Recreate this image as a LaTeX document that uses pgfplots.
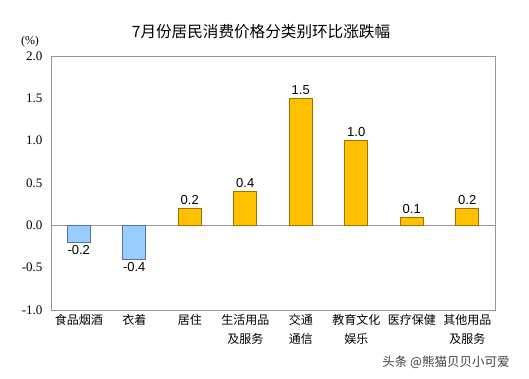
\documentclass[border=0pt]{standalone}
\usepackage{fontspec}
\setmainfont{Liberation Serif}
\newfontfamily\cjk{Noto Sans CJK SC}
\newfontfamily\arial{Liberation Sans}
\usepackage{pgfplots}
\pgfplotsset{compat=1.18}
\definecolor{barblue}{RGB}{153,204,255}
\definecolor{bluedge}{RGB}{85,115,155}
\definecolor{baryel}{RGB}{255,192,0}
\definecolor{yeledge}{RGB}{160,115,0}
\definecolor{framegray}{RGB}{150,150,150}
\begin{document}
\begin{tikzpicture}[x=1pt,y=1pt]
\path[use as bounding box] (0pt,0pt) rectangle (529pt,378pt);
\node[font=\cjk\fontsize{15.6}{18}\selectfont] at (261pt,346pt) {7月份居民消费价格分类别环比涨跌幅};
\node[font=\fontsize{12}{14}\selectfont] at (30pt,336pt) {(\%)};
\node[font=\cjk\fontsize{12.5}{14}\selectfont, text=black!75] at (446pt,16pt) {头条 @熊猫贝贝小可爱};
\begin{axis}[at={(51pt,68pt)}, anchor=south west, scale only axis,
  width=444pt, height=254pt,
  xmin=-0.5, xmax=7.5, ymin=-1, ymax=2,
  ytick={-1,-0.5,0,0.5,1,1.5,2},
  xtick={0,1,2,3,4,5,6,7},
  xticklabels={食品烟酒,衣着,居住,{生活用品\\及服务},{交通\\通信},{教育文化\\娱乐},医疗保健,{其他用品\\及服务}},
  xticklabel style={font=\cjk\fontsize{12}{19}\selectfont, align=center, anchor=north, yshift=-1pt},
  /pgf/number format/assume math mode=true,
  yticklabel style={/pgf/number format/.cd, fixed, fixed zerofill, precision=1, /tikz/.cd, font=\fontsize{13}{15}\selectfont, xshift=-5pt},
  major tick length=0pt,
  axis line style={framegray, line width=0.8pt},
  ybar, bar width=23pt, bar shift=0pt,
  nodes near coords,
  nodes near coords style={font=\arial\fontsize{13}{15}\selectfont, /pgf/number format/.cd, fixed, fixed zerofill, precision=1},
  clip=false,
]
\draw[framegray, line width=0.8pt] (axis cs:-0.5,0) -- (axis cs:7.5,0);
\addplot[fill=barblue, draw=bluedge, line width=0.6pt, nodes near coords align={vertical}] coordinates {(0,-0.2) (1,-0.4)};
\addplot[fill=baryel, draw=yeledge, line width=0.6pt] coordinates {(2,0.2) (3,0.4) (4,1.5) (5,1.0) (6,0.1) (7,0.2)};
\end{axis}
\end{tikzpicture}
\end{document}
